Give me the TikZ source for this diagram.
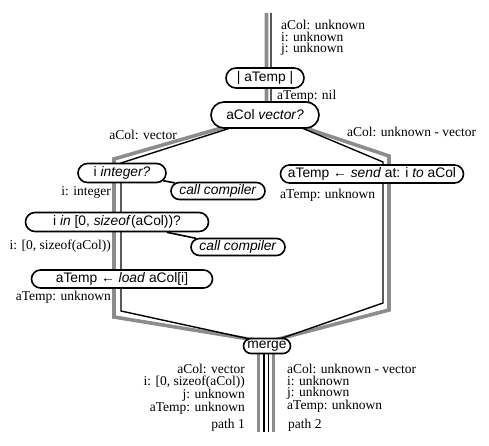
\documentclass[tikz,border=0pt]{standalone}
\usepackage{fontspec}
\setmainfont{Liberation Serif}
\newfontfamily\boxfont{Liberation Sans}
\usetikzlibrary{positioning,shapes.misc,backgrounds}
\definecolor{pathgray}{gray}{0.55}

\begin{document}
\begin{tikzpicture}[
    x=1pt, y=-1pt,
    stmt/.style={%
      draw,
      rounded rectangle,
      line width=1.6pt,
      fill=white,
      inner xsep=1pt,
      inner ysep=1pt,
      minimum height=19pt,
      font=\boxfont\fontsize{13.8}{15}\selectfont,
    },
    info/.style={%
      inner sep=0pt,
      font=\fontsize{13.5}{11.5}\selectfont,
    },
    grayflow/.style={pathgray, line width=3.6pt},
    blackflow/.style={black, line width=1.4pt},
  ]
    \useasboundingbox (0,0) rectangle (489,446);

    \node [stmt, minimum height=20pt, minimum width=80pt] (decl) at (265,78) {| aTemp |};
    \path (decl) ++(0,37) node [stmt, minimum height=26pt, minimum width=110pt] (isVec) {aCol \textit{vector?}};
    \path (isVec) ++(-143,58) node [stmt, minimum width=90pt] (isInt) {i \textit{integer?}};
    \path (isInt) ++(96,18) node [stmt, minimum height=17pt, minimum width=96pt] (cc1) {\textit{call compiler}};
    \path (isInt) ++(-5,49) node [stmt, minimum width=185pt] (inRange) {i \textit{in} [0, \textit{sizeof}(aCol))?};
    \path (inRange) ++(121,25) node [stmt, minimum height=17pt, minimum width=96pt] (cc2) {\textit{call compiler}};
    \path (inRange) ++(5,57) node [stmt, minimum height=18pt, minimum width=183pt] (load) {aTemp ← \textit{load} aCol[i]};
    \path (isVec) ++(107,59) node [stmt, minimum height=18pt, minimum width=185pt] (send) {aTemp ← \textit{send} at: i \textit{to} aCol};
    \node [stmt, minimum height=15pt, minimum width=49pt] (merge) at (267,346) {merge};

    \node [info, anchor=north west, align=left] (stTop) at (281,20) {aCol: unknown\\i: unknown\\j: unknown};
    \node [info, anchor=base west] (stNil) at (277,100) {aTemp: nil};
    \node [info, anchor=base east] (stVec) at (177,140) {aCol: vector};
    \node [info, anchor=base west] (stNotVec) at (347,137) {aCol: unknown - vector};
    \node [info, anchor=base east] (stInt) at (111,196) {i: integer};
    \node [info, anchor=base east] (stRange) at (111,249) {i: [0, sizeof(aCol))};
    \node [info, anchor=base east] (stLoad) at (111,300) {aTemp: unknown};
    \node [info, anchor=base west] (stSend) at (280,199) {aTemp: unknown};
    \node [info, anchor=north east, align=right] (stOne) at (245,364) {aCol: vector\\i: [0, sizeof(aCol))\\j: unknown\\aTemp: unknown};
    \node [info, anchor=north west, align=left] (stTwo) at (287,364) {aCol: unknown - vector\\i: unknown\\j: unknown\\aTemp: unknown};
    \node [info, anchor=base east] (pOne) at (245,428) {path 1};
    \node [info, anchor=base west] (pTwo) at (288,428) {path 2};

    \begin{scope}[on background layer]
      \coordinate (gTop) at (266.5,13);
      \coordinate (bTop) at (271,13);
      \coordinate (gL1) at (114,159);
      \coordinate (gL2) at (114,317);
      \coordinate (gR1) at (389,156);
      \coordinate (gR2) at (389,310);
      \coordinate (gM) at (267,342);
      \coordinate (bL1) at (121,163);
      \coordinate (bL2) at (121,311);
      \coordinate (bR1) at (383,162);
      \coordinate (bR2) at (383,303);
      \coordinate (bM) at (268,343);
      \coordinate (g1) at (258.5,432);
      \coordinate (b1) at (264,432);
      \coordinate (b2) at (268.5,432);
      \coordinate (g2) at (273.5,432);

      \draw [grayflow] (gTop) -- (gTop |- isVec) -- (gL1) -- (gL2) -- (gM);
      \draw [grayflow] (gTop |- isVec) -- (gR1) -- (gR2) -- (gM);
      \draw [blackflow] (bTop) -- (bTop |- isVec) -- (bL1) -- (bL2) -- (bM);
      \draw [blackflow] (bTop |- isVec) -- (bR1) -- (bR2) -- (bM);

      \draw [grayflow] (merge.center -| g1) -- (g1);
      \draw [blackflow] (merge.center -| b1) -- (b1);
      \draw [blackflow] (merge.center -| b2) -- (b2);
      \draw [grayflow] (merge.center -| g2) -- (g2);

      \draw [line width=1.6pt] (isInt) -- (cc1);
      \draw [line width=1.6pt] (inRange) -- (cc2);
    \end{scope}

\end{tikzpicture}
\end{document}
